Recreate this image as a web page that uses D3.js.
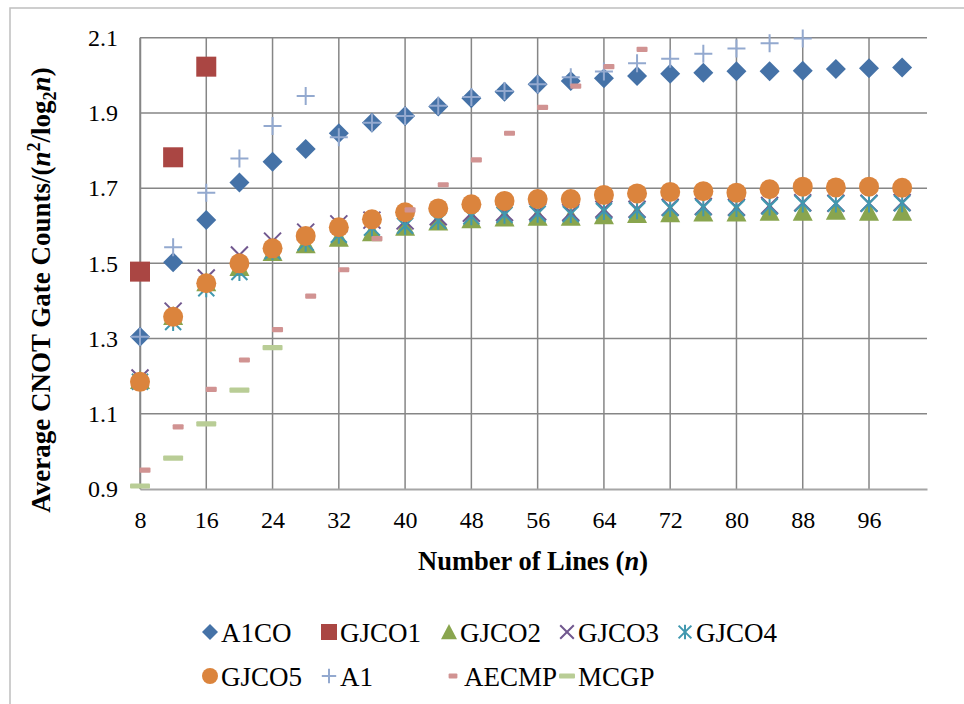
<!DOCTYPE html>
<html><head><meta charset="utf-8">
<script src="https://cdn.jsdelivr.net/npm/d3@7"></script>
<style>
html,body{margin:0;padding:0;background:#fff;}
svg{display:block;}
text{font-family:"Liberation Serif","Times New Roman",serif;fill:#000;}
</style></head>
<body>
<svg id="chart" width="964" height="704"></svg>
<script>
// ---------------- data ----------------
const nValues = [8,12,16,20,24,28,32,36,40,44,48,52,56,60,64,68,72,76,80,84,88,92,96,100];
const xTicks = [8,16,24,32,40,48,56,64,72,80,88,96];
const yTicks = [0.9,1.1,1.3,1.5,1.7,1.9,2.1];
const seriesNames = ["A1CO","GJCO1","GJCO2","GJCO3","GJCO4","GJCO5","A1","AECMP","MCGP"];

const A1CO  = [1.305,1.503,1.615,1.715,1.770,1.804,1.846,1.874,1.892,1.917,1.939,1.956,1.976,1.985,1.992,1.998,2.004,2.007,2.011,2.011,2.012,2.017,2.019,2.021];
const GJCO1 = [1.478,1.782,2.023,null,null,null,null,null,null,null,null,null,null,null,null,null,null,null,null,null,null,null,null,null];
const GJCO2 = [1.190,1.360,1.450,1.490,1.530,1.551,1.568,1.583,1.597,1.611,1.617,1.622,1.624,1.624,1.628,1.631,1.633,1.635,1.635,1.637,1.637,1.640,1.637,1.637];
const GJCO3 = [1.195,1.373,1.461,1.522,1.559,1.583,1.605,1.615,1.613,1.624,1.633,1.635,1.637,1.635,1.644,1.644,1.649,1.651,1.649,1.654,1.661,1.660,1.660,1.662];
const GJCO4 = [1.185,1.344,1.434,1.477,1.532,1.555,1.576,1.595,1.600,1.613,1.625,1.629,1.632,1.631,1.639,1.641,1.647,1.649,1.647,1.651,1.659,1.659,1.659,1.660];
const GJCO5 = [1.185,1.358,1.447,1.500,1.540,1.573,1.596,1.617,1.636,1.646,1.657,1.666,1.671,1.671,1.682,1.686,1.690,1.692,1.688,1.697,1.704,1.702,1.704,1.701];
const A1    = [1.305,1.543,1.688,1.779,1.865,1.945,1.835,1.874,1.892,1.919,1.942,1.958,1.976,1.995,2.010,2.032,2.044,2.057,2.071,2.085,2.098,null,null,null];
const AECMP = [0.950,1.065,1.165,1.243,1.324,1.413,1.483,1.566,1.642,1.709,1.775,1.846,1.915,1.971,2.023,2.069,null,null,null,null,null,null,null,null];
const MCGP  = [0.908,0.982,1.073,1.163,1.276,null,null,null,null,null,null,null,null,null,null,null,null,null,null,null,null,null,null,null];

const seriesValues = [A1CO,GJCO1,GJCO2,GJCO3,GJCO4,GJCO5,A1,AECMP,MCGP];

// ---------------- styles ----------------
const styles = {
  A1CO:  {shape:"diamond",  color:"#4572A7"},
  GJCO1: {shape:"square",   color:"#AA4643"},
  GJCO2: {shape:"triangle", color:"#89A54E"},
  GJCO3: {shape:"x",        color:"#71588F"},
  GJCO4: {shape:"star",     color:"#4198AF"},
  GJCO5: {shape:"circle",   color:"#DB843D"},
  A1:    {shape:"plus",     color:"#93A9CF"},
  AECMP: {shape:"dash",     color:"#D19392", dx:5},
  MCGP:  {shape:"longdash", color:"#B9CD96"}
};

function drawMarker(g, shape, color, s){
  s = s || 1;
  switch(shape){
    case "diamond":
      g.append("path").attr("d",`M0,${-10*s}L${10*s},0L0,${10*s}L${-10*s},0Z`).attr("fill",color); break;
    case "square":
      g.append("rect").attr("x",-10*s).attr("y",-10*s).attr("width",20*s).attr("height",20*s).attr("fill",color); break;
    case "triangle":
      g.append("path").attr("d",`M0,${-10*s}L${10*s},${9*s}L${-10*s},${9*s}Z`).attr("fill",color); break;
    case "x":
      g.append("path").attr("d",`M${-8.5*s},${-8.5*s}L${8.5*s},${8.5*s}M${-8.5*s},${8.5*s}L${8.5*s},${-8.5*s}`)
        .attr("stroke",color).attr("stroke-width",2).attr("fill","none"); break;
    case "star":
      g.append("path").attr("d",`M${-8*s},${-8*s}L${8*s},${8*s}M${-8*s},${8*s}L${8*s},${-8*s}M0,${-9*s}L0,${9*s}`)
        .attr("stroke",color).attr("stroke-width",2).attr("fill","none"); break;
    case "circle":
      g.append("circle").attr("r",10*s).attr("fill",color); break;
    case "plus":
      g.append("path").attr("d",`M${-9*s},0L${9*s},0M0,${-9*s}L0,${9*s}`)
        .attr("stroke",color).attr("stroke-width",2).attr("fill","none"); break;
    case "dash":
      g.append("rect").attr("x",-5.5*s).attr("y",-2.6).attr("width",11*s).attr("height",5.2).attr("rx",1).attr("fill",color); break;
    case "longdash":
      g.append("rect").attr("x",-10*s).attr("y",-2.6).attr("width",20*s).attr("height",5.2).attr("rx",1).attr("fill",color); break;
  }
}

// ---------------- layout ----------------
const svg = d3.select("#chart");
svg.append("rect").attr("x",10).attr("y",8).attr("width",980).attr("height",720)
  .attr("fill","#fff").attr("stroke","#BFBFBF").attr("stroke-width",1.5);

const plot = {left:140, right:927, top:37.7, bottom:489};
const x = d3.scaleLinear().domain([8,103]).range([plot.left, plot.right]);
const y = d3.scaleLinear().domain([0.9,2.1]).range([plot.bottom, plot.top]);

// gridlines
const grid = svg.append("g");
grid.selectAll("line.h").data(yTicks.filter(v=>v>0.9)).enter().append("line")
  .attr("x1",plot.left).attr("x2",plot.right).attr("y1",d=>y(d)).attr("y2",d=>y(d))
  .attr("stroke","#868686").attr("stroke-width",1.5);
grid.selectAll("line.v").data(xTicks).enter().append("line")
  .attr("x1",d=>x(d)).attr("x2",d=>x(d)).attr("y1",plot.top).attr("y2",plot.bottom)
  .attr("stroke","#868686").attr("stroke-width",1.5);

// x axis (bottom line)
const xAxis = d3.axisBottom(x).tickValues(xTicks).tickSize(0).tickPadding(22).tickFormat(d3.format("d"));
const gx = svg.append("g").attr("transform",`translate(0,${plot.bottom})`).call(xAxis);
gx.select(".domain").attr("stroke","#A6A6A6").attr("stroke-width",2);
gx.selectAll("text").attr("font-size",24).attr("font-family","Liberation Serif, serif").attr("fill","#000");

// y axis
const yAxis = d3.axisLeft(y).tickValues(yTicks).tickSize(0).tickPadding(22).tickFormat(d3.format(".1f"));
const gy = svg.append("g").attr("transform",`translate(${plot.left},0)`).call(yAxis);
gy.select(".domain").attr("stroke","#868686").attr("stroke-width",1.5);
gy.selectAll("text").attr("font-size",24).attr("font-family","Liberation Serif, serif").attr("fill","#000");

// axis titles
const xt = svg.append("text").attr("x",533).attr("y",570).attr("text-anchor","middle")
  .attr("font-size",26.5).attr("font-weight","bold");
xt.append("tspan").text("Number of Lines (");
xt.append("tspan").attr("font-style","italic").text("n");
xt.append("tspan").text(")");

const yt = svg.append("text").attr("transform","translate(50,290) rotate(-90)").attr("text-anchor","middle")
  .attr("font-size",27).attr("font-weight","bold");
yt.append("tspan").text("Average CNOT Gate Counts/(");
yt.append("tspan").attr("font-style","italic").text("n");
yt.append("tspan").attr("font-size",18).attr("dy",-10).text("2");
yt.append("tspan").attr("dy",10).text("/log");
yt.append("tspan").attr("font-size",18).attr("dy",6).text("2");
yt.append("tspan").attr("font-style","italic").attr("dy",-6).text("n");
yt.append("tspan").text(")");

// series
seriesNames.forEach((name,i)=>{
  const st = styles[name];
  const pts = nValues.map((n,j)=>({n, v:seriesValues[i][j]})).filter(d=>d.v!=null);
  const g = svg.append("g").attr("class","series-"+name);
  pts.forEach(d=>{
    const m = g.append("g").attr("transform",`translate(${x(d.n)+(st.dx||0)},${y(d.v)})`);
    drawMarker(m, st.shape, st.color, 1);
  });
});

// legend
const legendRows = [["A1CO","GJCO1","GJCO2","GJCO3","GJCO4"],["GJCO5","A1","AECMP","MCGP"]];
const legendCols = [[210,329,449,567,685],[210,329,453,567]];
const legendY = [632,676];
legendRows.forEach((row,r)=>{
  row.forEach((name,c)=>{
    const st = styles[name];
    const g = svg.append("g").attr("transform",`translate(${legendCols[r][c]},${legendY[r]})`);
    drawMarker(g, st.shape, st.color, 0.8);
    g.append("text").attr("x",11).attr("y",9.5).attr("font-size",27).text(name);
  });
});
</script>
</body></html>
